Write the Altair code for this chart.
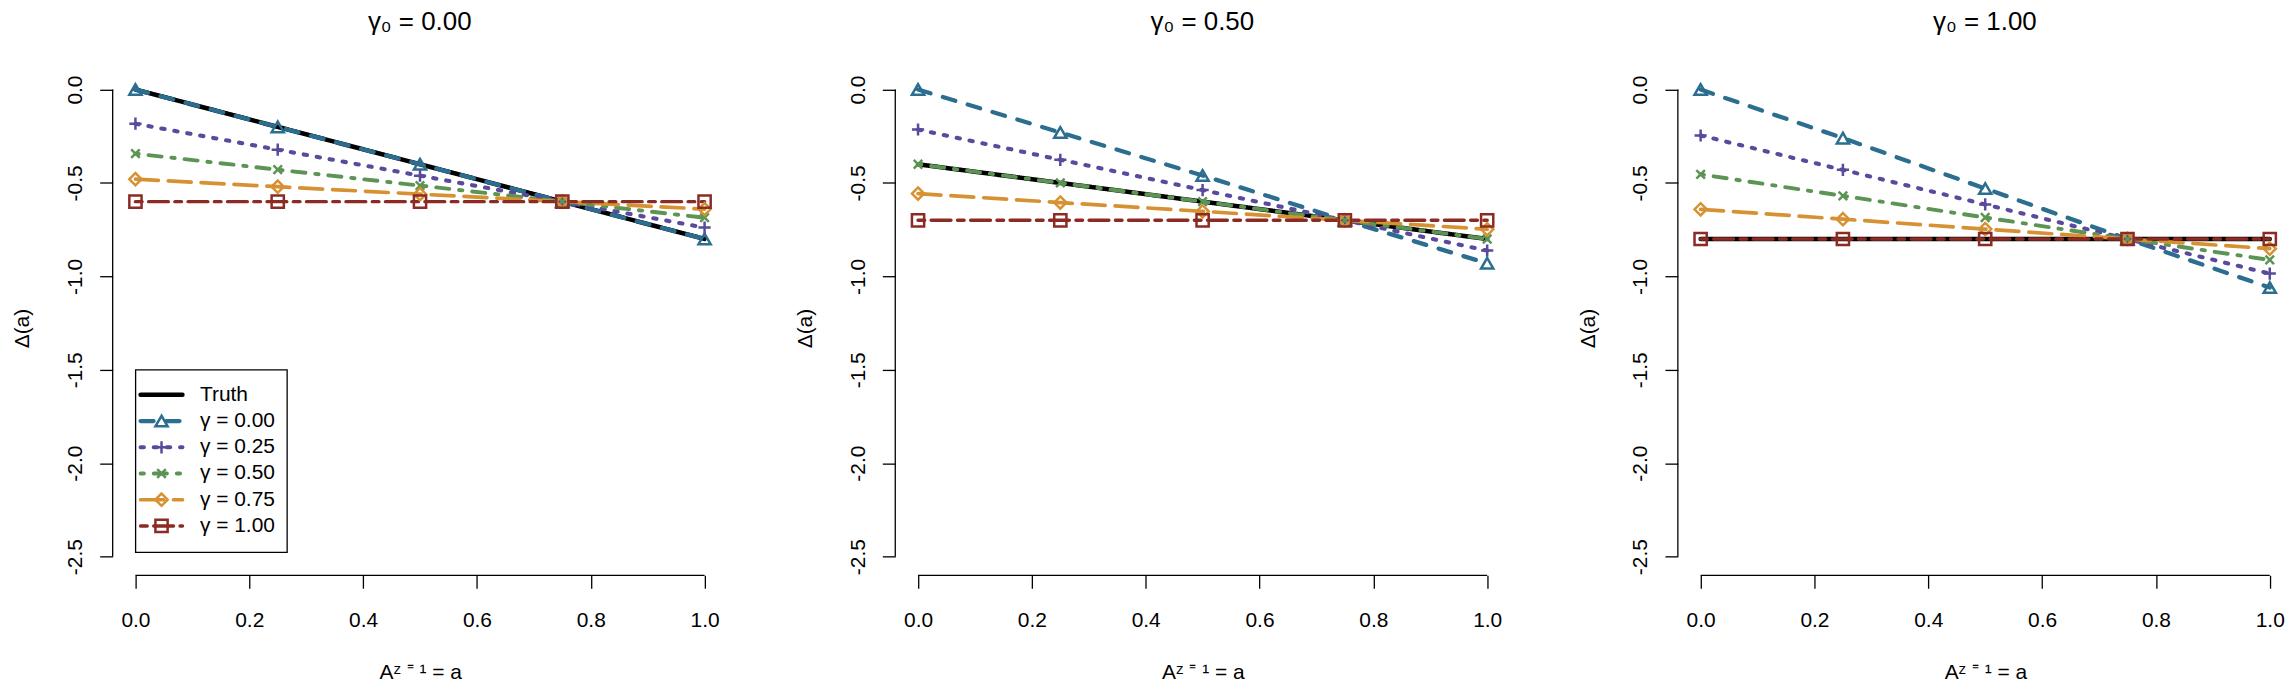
import altair as alt
import pandas as pd

FONT = "Liberation Sans, Arial, sans-serif"

A_VALUES = [0.0, 0.25, 0.5, 0.75, 1.0]
X_TICKS = [0.0, 0.2, 0.4, 0.6, 0.8, 1.0]
Y_TICKS = [0.0, -0.5, -1.0, -1.5, -2.0, -2.5]

SERIES = ["Truth", "γ = 0.00", "γ = 0.25", "γ = 0.50", "γ = 0.75", "γ = 1.00"]
PANEL_TITLES = ["γ₀ = 0.00", "γ₀ = 0.50", "γ₀ = 1.00"]

COLORS = ["#000000", "#2B6E8F", "#5A4A9C", "#5B9453", "#D69232", "#8C2B24"]
DASHES = [[1, 0], [13, 13], [3.3, 9.9], [3.3, 9.9, 13.2, 9.9], [23, 10], [6.6, 6.6, 19.8, 6.6]]
WIDTHS = [4.5, 3.5, 3.5, 3.5, 3.5, 3.5]
SHAPES = [
    "triangle-up",
    "M-1,0L1,0M0,-1L0,1",
    "M-0.7,-0.7L0.7,0.7M-0.7,0.7L0.7,-0.7",
    "diamond",
    "square",
]
SIZES = [150, 150, 220, 170, 120]

# panel gamma0 = 0.00
P1_TRUTH = [0.0, -0.2, -0.4, -0.6, -0.8]
P1_G000 = [0.0, -0.2, -0.4, -0.6, -0.8]
P1_G025 = [-0.183, -0.322, -0.461, -0.6, -0.739]
P1_G050 = [-0.343, -0.429, -0.514, -0.6, -0.686]
P1_G075 = [-0.48, -0.52, -0.56, -0.6, -0.64]
P1_G100 = [-0.6, -0.6, -0.6, -0.6, -0.6]

# panel gamma0 = 0.50
P2_TRUTH = [-0.4, -0.5, -0.6, -0.7, -0.8]
P2_G000 = [0.0, -0.23, -0.46, -0.70, -0.93]
P2_G025 = [-0.214, -0.376, -0.538, -0.7, -0.862]
P2_G050 = [-0.4, -0.5, -0.6, -0.7, -0.8]
P2_G075 = [-0.557, -0.605, -0.652, -0.7, -0.748]
P2_G100 = [-0.7, -0.7, -0.7, -0.7, -0.7]

# panel gamma0 = 1.00
P3_TRUTH = [-0.8, -0.8, -0.8, -0.8, -0.8]
P3_G000 = [0.0, -0.26, -0.53, -0.80, -1.06]
P3_G025 = [-0.246, -0.43, -0.615, -0.8, -0.985]
P3_G050 = [-0.454, -0.569, -0.685, -0.8, -0.912]
P3_G075 = [-0.641, -0.694, -0.747, -0.8, -0.852]
P3_G100 = [-0.8, -0.8, -0.8, -0.8, -0.8]

PANELS = [
    [P1_TRUTH, P1_G000, P1_G025, P1_G050, P1_G075, P1_G100],
    [P2_TRUTH, P2_G000, P2_G025, P2_G050, P2_G075, P2_G100],
    [P3_TRUTH, P3_G000, P3_G025, P3_G050, P3_G075, P3_G100],
]

W, H = 602, 506


def panel_df(series_values):
    rows = []
    for name, vals in zip(SERIES, series_values):
        for a, v in zip(A_VALUES, vals):
            rows.append({"series": name, "a": a, "value": v})
    return pd.DataFrame(rows)


color_enc = alt.Color("series:N", scale=alt.Scale(domain=SERIES, range=COLORS), legend=None)
dash_enc = alt.StrokeDash("series:N", scale=alt.Scale(domain=SERIES, range=DASHES), legend=None)
width_enc = alt.StrokeWidth("series:N", scale=alt.Scale(domain=SERIES, range=WIDTHS), legend=None)
shape_enc = alt.Shape("series:N", scale=alt.Scale(domain=SERIES[1:], range=SHAPES), legend=None)
size_enc = alt.Size("series:N", scale=alt.Scale(domain=SERIES[1:], range=SIZES), legend=None)

x_axis = alt.Axis(
    values=X_TICKS, format=".1f", domain=False, grid=False,
    tickSize=13, tickWidth=1.3, tickColor="black",
    labelFont=FONT, labelFontSize=21, labelColor="black", labelPadding=21,
    labelFlush=False, labelOverlap=False,
    title="Aᶻ ⁼ ¹ = a", titleFont=FONT, titleFontSize=21, titleFontWeight="normal",
    titleColor="black", titleX=308.5, titleY=104, titleBaseline="alphabetic", titleAlign="center",
)
y_axis = alt.Axis(
    values=Y_TICKS, domain=False, grid=False,
    labelExpr="(datum.value < 0 ? '-' : '') + format(abs(datum.value), '.1f')",
    tickSize=13, tickWidth=1.3, tickColor="black",
    labelFont=FONT, labelFontSize=21, labelColor="black", labelPadding=18,
    labelAngle=270, labelAlign="center", labelBaseline="alphabetic",
    labelFlush=False, labelOverlap=False,
    title="Δ(a)", titleFont=FONT, titleFontSize=21, titleFontWeight="normal",
    titleColor="black", titleAngle=270, titleX=-101, titleY=258,
    titleBaseline="top", titleAlign="center",
)

x_enc = alt.X("a:Q", scale=alt.Scale(domain=[-0.04, 1.0145], nice=False, zero=False), axis=x_axis)
y_enc = alt.Y("value:Q", scale=alt.Scale(domain=[-2.6, 0.1], nice=False, zero=False), axis=y_axis)


def make_panel(idx):
    df = panel_df(PANELS[idx])
    base = alt.Chart(df)
    truth = base.transform_filter(alt.datum.series == "Truth").mark_line(
        strokeCap="round", strokeJoin="round"
    ).encode(x=x_enc, y=y_enc, color=color_enc, strokeDash=dash_enc, strokeWidth=width_enc)
    others = base.transform_filter(alt.datum.series != "Truth").mark_line(
        strokeCap="round", strokeJoin="round"
    ).encode(x=x_enc, y=y_enc, color=color_enc, strokeDash=dash_enc, strokeWidth=width_enc,
             detail="series:N")
    pts = base.transform_filter(alt.datum.series != "Truth").mark_point(
        filled=False, strokeWidth=2.5, opacity=1
    ).encode(x=x_enc, y=y_enc, color=color_enc, shape=shape_enc, size=size_enc)

    axis_df = pd.DataFrame({"k": [0]})
    x_line = alt.Chart(axis_df).mark_rule(color="black", strokeWidth=1.3).encode(
        x=alt.datum(X_TICKS[0]), x2=alt.datum(X_TICKS[-1]), y=alt.value(H)
    )
    y_line = alt.Chart(axis_df).mark_rule(color="black", strokeWidth=1.3).encode(
        y=alt.datum(Y_TICKS[0]), y2=alt.datum(Y_TICKS[-1]), x=alt.value(0)
    )

    layers = [truth, others, pts, x_line, y_line]

    if idx == 0:
        leg = pd.DataFrame({"series": SERIES, "row": list(range(len(SERIES)))})
        leg["ly"] = 325 + 26.3 * leg["row"]
        box = alt.Chart(axis_df).mark_rect(fill="white", stroke="black", strokeWidth=1.3).encode(
            x=alt.value(23), x2=alt.value(175), y=alt.value(300), y2=alt.value(483)
        )
        lb = alt.Chart(leg)
        ly = alt.Y("ly:Q", scale=None, axis=None)
        leg_lines = lb.mark_rule(strokeCap="round").encode(
            x=alt.value(28), x2=alt.value(70), y=ly,
            color=color_enc, strokeDash=dash_enc, strokeWidth=width_enc,
        )
        leg_pts = lb.transform_filter(alt.datum.series != "Truth").mark_point(
            filled=False, strokeWidth=2.5, opacity=1
        ).encode(x=alt.value(49), y=ly, color=color_enc, shape=shape_enc, size=size_enc)
        leg_txt = lb.mark_text(
            align="left", baseline="middle", font=FONT, fontSize=21, color="black"
        ).encode(x=alt.value(87.5), y=ly, text="series:N")
        layers += [box, leg_lines, leg_pts, leg_txt]

    return alt.layer(*layers).properties(
        width=W, height=H,
        title=alt.TitleParams(
            PANEL_TITLES[idx], font=FONT, fontSize=26, fontWeight="normal",
            color="black", anchor="middle", offset=36, dx=7,
        ),
    )


chart = alt.hconcat(make_panel(0), make_panel(1), make_panel(2), spacing=183, bounds="flush")
chart = chart.properties(
    padding={"left": 4, "top": 0, "right": 0, "bottom": 0}, background="white"
).configure_view(stroke=None)

chart.save("out.html", embed_options={"renderer": "svg", "actions": False})
